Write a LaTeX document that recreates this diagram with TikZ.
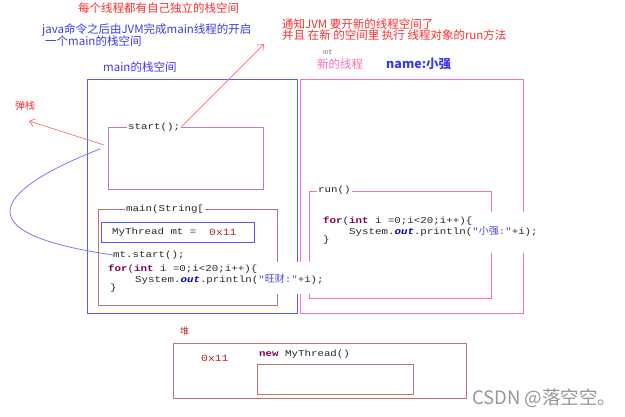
\documentclass[tikz,border=0pt]{standalone}
\usepackage{fontspec}
\setmainfont{Noto Sans CJK SC}
\newfontfamily\cjk{Noto Sans CJK SC}
\newfontfamily\code[FakeStretch=1.2]{Liberation Mono}
\usetikzlibrary{arrows.meta}
\definecolor{tred}{RGB}{255,45,45}
\definecolor{tblue}{RGB}{60,60,230}
\definecolor{mainblue}{RGB}{90,90,255}
\definecolor{tpink}{RGB}{255,110,180}
\definecolor{spurple}{RGB}{190,120,210}
\definecolor{mbrown}{RGB}{190,115,115}
\definecolor{arrred}{RGB}{255,110,110}
\definecolor{curveblue}{RGB}{120,120,255}
\definecolor{codegray}{RGB}{40,40,40}
\definecolor{kwpurple}{RGB}{127,0,85}
\definecolor{outblue}{RGB}{0,0,192}
\definecolor{strblue}{RGB}{70,70,230}
\definecolor{hexred}{RGB}{170,40,40}
\definecolor{wm}{RGB}{150,150,150}
\tikzset{
  txt/.style={anchor=west, inner sep=0pt},
  cjktxt/.style={txt, font=\fontsize{11.5}{12}\selectfont},
  codetxt/.style={txt, font=\code\fontsize{9}{10}\selectfont, text=codegray},
  codelbl/.style={codetxt, fill=white, inner xsep=1pt, inner ysep=1.5pt},
  box/.style={draw, anchor=north west, inner sep=0pt, line width=1pt},
  redarrow/.style={draw=arrred, line width=0.7pt, -{Straight Barb[length=5pt,width=8pt]}},
}
\newcommand{\kw}[1]{{\bfseries\color{kwpurple}#1}}
\newcommand{\str}[1]{{\color{strblue}#1}}
\begin{document}
\begin{tikzpicture}[x=1pt,y=-1pt]
\useasboundingbox (0,0) rectangle (625,417);
% boxes
\node[box, draw=mainblue, minimum width=210pt, minimum height=234pt] (mainstack) at (87,79) {};
\node[box, draw=tpink, minimum width=223pt, minimum height=234pt] (newstack) at (300,79) {};
\node[box, draw=spurple, minimum width=155pt, minimum height=62pt] (startbox) at (108,127) {};
\node[box, draw=mbrown, minimum width=179pt, minimum height=96pt] (mainbox) at (98,209) {};
\node[box, draw=mainblue, minimum width=153pt, minimum height=20pt] (mtbox) at (101,222) {};
\node[box, draw=tpink, minimum width=182pt, minimum height=107pt] (runbox) at (309,191) {};
\node[box, draw=mbrown, minimum width=293pt, minimum height=55pt] (heap) at (173,343) {};
\node[box, draw=mbrown, minimum width=156pt, minimum height=30pt] (objbox) at (257,364) {};
% white patches behind code
\node[fill=white, anchor=north west, minimum width=232pt, minimum height=32pt, inner sep=0pt] (mainpatch) at (103,262) {};
\node[fill=white, anchor=north west, minimum width=230pt, minimum height=41pt, inner sep=0pt] (runpatch) at (315,212) {};
% top texts
\node[cjktxt, text=tred] (title) at (78,8) {每个线程都有自己独立的栈空间};
\node[cjktxt, text=tblue] (jvm1) at (42,30) {java命令之后由JVM完成main线程的开启};
\node[cjktxt, text=tblue] (jvm2) at (45,41) {一个main的栈空间};
\node[cjktxt, text=tblue] (mainlbl) at (103,67) {main的栈空间};
\node[cjktxt, text=tred] (notify1) at (282,24) {通知JVM 要开新的线程空间了};
\node[cjktxt, text=tred] (notify2) at (282,35) {并且 在新 的空间里 执行 线程对象的run方法};
\node[txt, font=\code\fontsize{7}{8}\selectfont, text=gray] (mtlbl) at (323,52) {mt};
\node[cjktxt, text=tpink] (newthr) at (317,64) {新的线程};
\node[txt, font=\bfseries\fontsize{12.5}{13}\selectfont, text=tblue] (name) at (386,64) {name:小强};
\node[txt, font=\fontsize{10}{11}\selectfont, text=tred] (pop) at (15,106) {弹栈};
% code labels
\node[codelbl] (startlbl) at (127,127) {start();};
\node[codelbl] (mainsig) at (125,209) {main(String[};
\node[codetxt] (mtdecl) at (112,232) {MyThread mt =};
\node[codetxt, text=hexred, font=\code\fontsize{9.5}{10}\selectfont] (hex1) at (209,232) {0x11};
\node[codetxt] (mtstart) at (113,255) {mt.start();};
\node[codetxt] (for1) at (108,269) {\kw{for}(\kw{int} i =0;i<20;i++)\{};
\node[codetxt] (print1) at (135,279) {System.{\bfseries\itshape\color{outblue}out}.println(\str{"{\cjk\fontsize{10}{10}\selectfont 旺财}:"}+i);};
\node[codetxt] (close1) at (110,288) {\}};
\node[codelbl] (runlbl) at (317,190) {run()};
\node[codetxt] (for2) at (323,221) {\kw{for}(\kw{int} i =0;i<20;i++)\{};
\node[codetxt] (print2) at (349,231) {System.{\bfseries\itshape\color{outblue}out}.println(\str{"{\cjk\fontsize{10}{10}\selectfont 小强}:"}+i);};
\node[codetxt] (close2) at (323,240) {\}};
% heap
\node[txt, font=\fontsize{9}{10}\selectfont, text=hexred] (heaplbl) at (180,331) {堆};
\node[codetxt, text=hexred, font=\code\fontsize{9.5}{10}\selectfont] (hex2) at (201,358) {0x11};
\node[codetxt] (newobj) at (259,354) {\kw{new} MyThread()};
% watermark
\node[txt, font=\fontsize{18.5}{19}\selectfont, text=wm] (wmark) at (472,398) {CSDN @落空空。};
% connectors
\coordinate (tip1) at (264,44);
\draw[redarrow] (startlbl.east) -- (tip1);
\coordinate (popstart) at (104,145);
\coordinate (poptip) at (29,121);
\draw[redarrow] (popstart) -- (poptip);
\coordinate (curvestart) at (100,149);
\draw[curveblue, line width=0.8pt] (curvestart) .. controls (20,180) and (-60,230) .. (mtstart.west);
\end{tikzpicture}
\end{document}
